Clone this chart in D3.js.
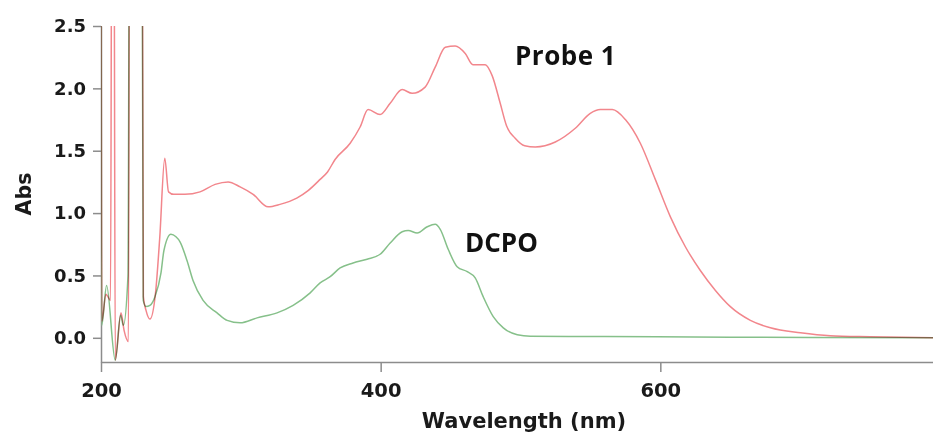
<!DOCTYPE html>
<html>
<head>
<meta charset="utf-8">
<script src="https://cdn.jsdelivr.net/npm/d3@7"></script>
<style>
  body { margin: 0; background: #fff; }
  .axis path, .axis line { stroke: #8c8c8c; stroke-width: 1.5; }
  .axis text { font-family: "DejaVu Sans", sans-serif; font-weight: bold; fill: #1a1a1a; }
</style>
</head>
<body>
<div id="container"></div>
<script>
// wavelength (nm) and absorbance
const probeWl = [200, 200.6, 203.5, 206.8, 207.8, 209.2, 210.2, 214.3, 216.5, 219.6,
  220.5, 229.4, 230.3, 232.2, 235, 239, 242, 245.6, 248.3, 252,
  260, 270.8, 281.6, 290.9, 299.5, 308.8, 319.5, 328, 340, 348.1,
  356.7, 362, 367.4, 378.2, 385.3, 391, 399.6, 406.8, 415.4, 422.5,
  431.8, 439, 446.2, 453.3, 460.5, 466, 474.8, 479.8, 485.5, 490,
  496.2, 503, 510.6, 524.9, 539.2, 549.9, 557.1, 565.7, 575, 585.7,
  596.4, 607.2, 617.9, 628.6, 639.4, 650.1, 664.4, 678.7, 700.2, 721.6,
  750, 795];
const probeAbs = [4, 0.13, 0.35, 0.3, 4, 4, -0.18, 0.2, 0.06, -0.03,
  4, 4, 0.33, 0.22, 0.15, 0.36, 0.8, 1.44, 1.17, 1.15,
  1.15, 1.17, 1.23, 1.25, 1.21, 1.15, 1.05, 1.07, 1.12, 1.18,
  1.27, 1.33, 1.43, 1.56, 1.69, 1.83, 1.79, 1.88, 1.99, 1.96,
  2.01, 2.17, 2.33, 2.34, 2.28, 2.19, 2.19, 2.1, 1.88, 1.7,
  1.6, 1.54, 1.53, 1.57, 1.68, 1.8, 1.83, 1.83, 1.75, 1.56,
  1.27, 0.97, 0.73, 0.54, 0.38, 0.25, 0.14, 0.08, 0.04, 0.016,
  0.008, 0.0];

const dcpoWl = [200, 200.5, 204, 210.2, 214, 216, 219.3, 220.5, 229.2, 230.2,
  232.2, 235, 238.6, 242.9, 245, 250, 253.6, 256.5, 261.5, 265.8,
  273, 283, 290.2, 299.5, 311.6, 325.9, 337.4, 349.6, 356.7, 363.9,
  371, 380.3, 390.3, 399.6, 406.8, 415.4, 419.7, 426.1, 433.3, 439,
  442.6, 448.3, 454.7, 461.9, 467.6, 473.3, 480.5, 487.7, 497.7, 507,
  560, 650, 795];
const dcpoAbs = [4, 0.1, 0.42, -0.18, 0.18, 0.1, 0.5, 4, 4, 0.3,
  0.25, 0.26, 0.33, 0.52, 0.7, 0.83, 0.81, 0.77, 0.62, 0.46,
  0.3, 0.2, 0.14, 0.12, 0.16, 0.2, 0.26, 0.36, 0.44, 0.49,
  0.56, 0.6, 0.63, 0.67, 0.76, 0.85, 0.86, 0.84, 0.89, 0.91,
  0.87, 0.71, 0.57, 0.53, 0.48, 0.33, 0.17, 0.08, 0.024, 0.012,
  0.01, 0.005, 0.0];

const xTicks = [200, 400, 600];
const yTicks = [0, 0.5, 1.0, 1.5, 2.0, 2.5];

const width = 933, height = 437;
const plot = {left: 101, right: 933, top: 26, bottom: 362};

const svg = d3.select("#container")
  .append("svg")
  .attr("width", width)
  .attr("height", height);

const xScale = d3.scaleLinear().domain([200, 795]).range([plot.left, plot.right]);
const yScale = d3.scaleLinear().domain([-0.194, 2.5]).range([plot.bottom, plot.top]);

svg.append("defs").append("clipPath").attr("id", "plotclip")
  .append("rect")
  .attr("x", plot.left).attr("y", plot.top)
  .attr("width", plot.right - plot.left).attr("height", plot.bottom - plot.top);

// axes (drawn first so the spectra sit on top)
const xAxis = svg.append("g")
  .attr("class", "axis")
  .attr("transform", "translate(0," + plot.bottom + ")")
  .call(d3.axisBottom(xScale).tickValues(xTicks).tickSize(10).tickSizeOuter(0).tickPadding(11));
xAxis.selectAll("text").style("font-size", "19.5px");

const yAxis = svg.append("g")
  .attr("class", "axis")
  .attr("transform", "translate(" + plot.left + ",0)")
  .call(d3.axisLeft(yScale).tickValues(yTicks).tickFormat(d3.format(".1f")).tickSize(8).tickSizeOuter(0).tickPadding(7));
yAxis.selectAll("text").style("font-size", "18px");

const line = d3.line()
  .x(d => xScale(d[0]))
  .y(d => yScale(d[1]))
  .curve(d3.curveMonotoneX);

const lines = svg.append("g").attr("clip-path", "url(#plotclip)");
lines.append("path")
  .datum(d3.zip(probeWl, probeAbs))
  .attr("fill", "none")
  .attr("stroke", "#f2868c")
  .attr("stroke-width", 1.5)
  .style("mix-blend-mode", "multiply")
  .attr("d", line);
lines.append("path")
  .datum(d3.zip(dcpoWl, dcpoAbs))
  .attr("fill", "none")
  .attr("stroke", "#86c08a")
  .attr("stroke-width", 1.5)
  .style("mix-blend-mode", "multiply")
  .attr("d", line);

// axis titles
svg.append("text")
  .attr("x", 524)
  .attr("y", 428)
  .attr("text-anchor", "middle")
  .style("font-family", "DejaVu Sans, sans-serif")
  .style("font-weight", "bold")
  .style("font-size", "21px")
  .style("fill", "#1a1a1a")
  .text("Wavelength (nm)");
svg.append("text")
  .attr("transform", "translate(31,194) rotate(-90)")
  .attr("text-anchor", "middle")
  .style("font-family", "DejaVu Sans, sans-serif")
  .style("font-weight", "bold")
  .style("font-size", "20.5px")
  .style("fill", "#1a1a1a")
  .text("Abs");

// series labels
svg.append("text")
  .attr("x", 515).attr("y", 65)
  .style("font-family", "Open Sans, sans-serif")
  .style("font-weight", "bold")
  .style("font-size", "26px")
  .style("letter-spacing", "0.5px")
  .style("fill", "#111")
  .text("Probe 1");
svg.append("text")
  .attr("x", 465).attr("y", 252)
  .style("font-family", "Open Sans, sans-serif")
  .style("font-weight", "bold")
  .style("font-size", "26px")
  .style("fill", "#111")
  .text("DCPO");
</script>
</body>
</html>
